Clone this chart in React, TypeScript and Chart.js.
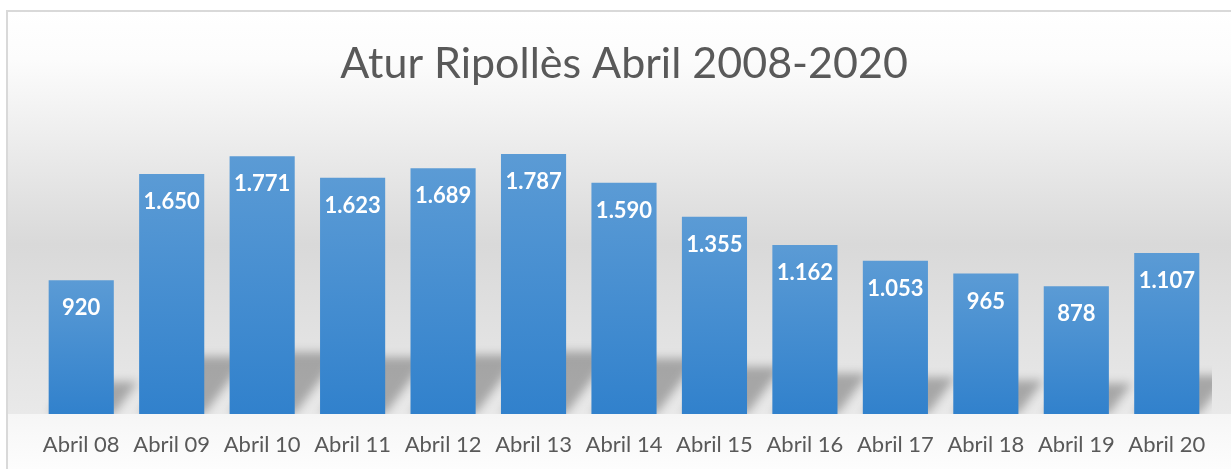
import React, { useEffect, useRef } from "react";
import { Chart, registerables } from "chart.js";

Chart.register(...registerables);

const chartTitle = "Atur Ripollès Abril 2008-2020";
const categories = [
  "Abril 08", "Abril 09", "Abril 10", "Abril 11", "Abril 12", "Abril 13", "Abril 14",
  "Abril 15", "Abril 16", "Abril 17", "Abril 18", "Abril 19", "Abril 20",
];
const values = [920, 1650, 1771, 1623, 1689, 1787, 1590, 1355, 1162, 1053, 965, 878, 1107];
const yMin = 0;
const yMax = 2000;

const W = 1231;
const H = 469;

function fmt(v: number): string {
  return String(v).replace(/\B(?=(\d{3})+(?!\d))/g, ".");
}

const backgroundPlugin = {
  id: "bgFrame",
  beforeDraw(chart: any) {
    const { ctx, chartArea } = chart;
    const base = chartArea.bottom;
    ctx.save();
    ctx.fillStyle = "#ffffff";
    ctx.fillRect(0, 0, W, H);
    const g = ctx.createLinearGradient(0, 11, 0, base);
    g.addColorStop(0, "#ffffff");
    g.addColorStop(0.12, "#fcfcfc");
    g.addColorStop(0.58, "#d9d9d9");
    g.addColorStop(1, "#e9e9e9");
    ctx.fillStyle = g;
    ctx.fillRect(7, 11, W, base - 11);
    const g2 = ctx.createLinearGradient(0, base, 0, H);
    g2.addColorStop(0, "#f6f6f6");
    g2.addColorStop(1, "#fdfdfd");
    ctx.fillStyle = g2;
    ctx.fillRect(7, base, W, H - base);
    ctx.strokeStyle = "#d9d9d9";
    ctx.lineWidth = 2;
    ctx.strokeRect(7, 11, W + 20, H + 20);
    // title
    ctx.fillStyle = "#595959";
    ctx.font = "43px Lato";
    ctx.textAlign = "center";
    ctx.textBaseline = "alphabetic";
    ctx.fillText(chartTitle, (chartArea.left + chartArea.right) / 2, 78);
    ctx.restore();
  },
  beforeDatasetsDraw(chart: any) {
    const { ctx, chartArea } = chart;
    const meta = chart.getDatasetMeta(0);
    ctx.save();
    ctx.beginPath();
    ctx.rect(chartArea.left, chartArea.top, chartArea.right - chartArea.left, chartArea.bottom - chartArea.top);
    ctx.clip();
    ctx.filter = "blur(5px)";
    ctx.fillStyle = "rgba(0,0,0,0.28)";
    meta.data.forEach((el: any) => {
      const h = el.base - el.y;
      const sh = h * 0.24;
      const skew = h * 0.18;
      const x0 = el.x - el.width / 2;
      const x1 = el.x + el.width / 2;
      ctx.beginPath();
      ctx.moveTo(x0, el.base);
      ctx.lineTo(x1, el.base);
      ctx.lineTo(x1 + skew, el.base - sh);
      ctx.lineTo(x0 + skew, el.base - sh);
      ctx.closePath();
      ctx.fill();
    });
    ctx.restore();
  },
  afterDatasetsDraw(chart: any) {
    const { ctx } = chart;
    const meta = chart.getDatasetMeta(0);
    ctx.save();
    ctx.fillStyle = "#ffffff";
    ctx.font = "bold 22px Lato";
    ctx.textAlign = "center";
    ctx.textBaseline = "middle";
    meta.data.forEach((el: any, i: number) => {
      ctx.fillText(fmt(values[i]), el.x, el.y + 28);
    });
    ctx.restore();
  },
};

export default function App() {
  const ref = useRef<HTMLCanvasElement | null>(null);
  useEffect(() => {
    if (!ref.current) return;
    const chart = new Chart(ref.current, {
      type: "bar",
      data: {
        labels: categories,
        datasets: [
          {
            data: values,
            backgroundColor: (c: any) => {
              const ch = c.chart;
              if (!ch.chartArea || c.type !== "data") return "#4a8fd3";
              const ys = ch.scales.y;
              const top = ys.getPixelForValue(c.raw as number);
              const base = ys.getPixelForValue(0);
              const g = ch.ctx.createLinearGradient(0, top, 0, base);
              g.addColorStop(0, "#5b9bd5");
              g.addColorStop(1, "#3181cc");
              return g;
            },
            borderWidth: 0,
            categoryPercentage: 1,
            barPercentage: 0.72,
          },
        ],
      },
      options: {
        responsive: false,
        animation: false,
        devicePixelRatio: 1,
        layout: { padding: { left: 36, right: 19, top: 123, bottom: 0 } },
        plugins: {
          legend: { display: false },
          title: { display: false },
          tooltip: { enabled: false },
        },
        scales: {
          x: {
            grid: { display: false, drawTicks: false },
            border: { display: false },
            afterFit: (s: any) => {
              s.height = 55;
            },
            ticks: {
              color: "#595959",
              font: { family: "Lato", size: 22 },
              padding: 18,
              maxRotation: 0,
              autoSkip: false,
            },
          },
          y: { display: false, min: yMin, max: yMax },
        },
      },
      plugins: [backgroundPlugin],
    });
    return () => chart.destroy();
  }, []);
  return (
    <div style={{ position: "fixed", left: 0, top: 0, width: W, height: H }}>
      <canvas ref={ref} width={W} height={H} style={{ display: "block" }} />
    </div>
  );
}
